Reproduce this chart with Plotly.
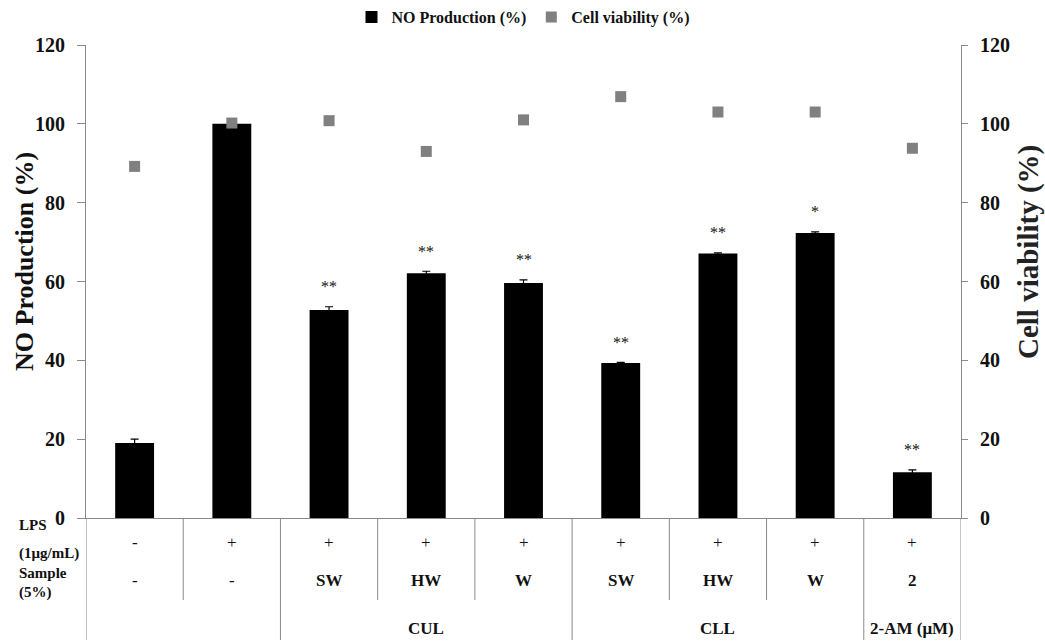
import plotly.graph_objects as go

# Treatment groups (one bar + one viability point each)
groups = ["Control", "LPS", "CUL-SW", "CUL-HW", "CUL-W", "CLL-SW", "CLL-HW", "CLL-W", "2-AM"]
no_production = [19.0, 100.0, 52.8, 62.1, 59.6, 39.3, 67.1, 72.3, 11.6]
no_error = [1.0, 0.0, 0.8, 0.5, 0.8, 0.2, 0.2, 0.3, 0.6]
cell_viability = [89.2, 100.2, 100.8, 93.0, 101.0, 106.9, 103.0, 103.0, 93.8]
significance = ["", "", "**", "**", "**", "**", "**", "*", "**"]

# Table rows under the axis
lps_row = ["-", "+", "+", "+", "+", "+", "+", "+", "+"]
sample_row = ["-", "-", "SW", "HW", "W", "SW", "HW", "W", "2"]
extract_labels = [("CUL", 3), ("CLL", 6), ("2-AM (μM)", 8)]

SERIF = "Liberation Serif"
AXIS_GREY = "#8a8a8a"

# plot area in pixels: x 86..961, y 45..518
PX_L, PX_R, PX_T, PX_B = 86, 961, 45, 518
PW, PH = PX_R - PX_L, PX_B - PX_T


def py_to_paper(py):
    return (PX_B - py) / PH


def px_to_paper(px):
    return (px - PX_L) / PW


fig = go.Figure()

fig.add_trace(go.Bar(
    x=groups, y=no_production, name="<b>NO Production (%)</b>",
    marker=dict(color="#000000", line=dict(width=0)),
    error_y=dict(type="data", array=no_error, visible=True,
                 color="#000000", thickness=1.2, width=4),
    yaxis="y",
))

fig.add_trace(go.Scatter(
    x=groups, y=cell_viability, name="<b>Cell viability (%)</b>",
    mode="markers",
    marker=dict(symbol="square", size=11, color="#808080"),
    yaxis="y2",
))

annotations = []

# significance marks above bars
for g, v, e, s in zip(groups, no_production, no_error, significance):
    if s:
        annotations.append(dict(
            x=g, y=v + e, xref="x", yref="y", text=s, showarrow=False,
            yanchor="middle", yshift=20,
            font=dict(family=SERIF, size=16, color="#111111"),
        ))

# table texts
for g, t in zip(groups, lps_row):
    annotations.append(dict(x=g, y=py_to_paper(542), xref="x", yref="paper", text=t,
                            showarrow=False, yanchor="middle",
                            font=dict(family=SERIF, size=17, color="#111111")))
for g, t in zip(groups, sample_row):
    txt = t if t == "-" else f"<b>{t}</b>"
    annotations.append(dict(x=g, y=py_to_paper(580), xref="x", yref="paper", text=txt,
                            showarrow=False, yanchor="middle",
                            font=dict(family=SERIF, size=17, color="#111111")))
for t, i in extract_labels:
    annotations.append(dict(x=i, y=py_to_paper(628), xref="x", yref="paper", text=f"<b>{t}</b>",
                            showarrow=False, yanchor="middle",
                            font=dict(family=SERIF, size=17, color="#111111")))

for t, py in [("LPS", 525), ("(1μg/mL)", 553), ("Sample", 573), ("(5%)", 592)]:
    annotations.append(dict(x=px_to_paper(17), y=py_to_paper(py), xref="paper", yref="paper",
                            xanchor="left", yanchor="middle", text=f"<b>{t}</b>",
                            showarrow=False,
                            font=dict(family=SERIF, size=15, color="#111111")))

# axis titles
annotations.append(dict(x=px_to_paper(24), y=py_to_paper(262), xref="paper", yref="paper",
                        text="<b>NO Production (%)</b>", textangle=-90, showarrow=False,
                        xanchor="center", yanchor="middle",
                        font=dict(family=SERIF, size=26, color="#111111")))
annotations.append(dict(x=px_to_paper(1029), y=py_to_paper(252), xref="paper", yref="paper",
                        text="<b>Cell viability (%)</b>", textangle=-90, showarrow=False,
                        xanchor="center", yanchor="middle",
                        font=dict(family=SERIF, size=29, color="#222222")))

# table grid lines below the axis
shapes = []
full_lines = [-0.5, 1.5, 4.5, 7.5, 8.5]
short_lines = [0.5, 2.5, 3.5, 5.5, 6.5]
for xv in full_lines:
    shapes.append(dict(type="line", xref="x", yref="paper", x0=xv, x1=xv,
                       y0=0, y1=py_to_paper(640), line=dict(color=AXIS_GREY, width=1)))
for xv in short_lines:
    shapes.append(dict(type="line", xref="x", yref="paper", x0=xv, x1=xv,
                       y0=0, y1=py_to_paper(600), line=dict(color=AXIS_GREY, width=1)))

tickfont = dict(family=SERIF, size=20, color="#111111", weight="bold")

fig.update_layout(
    width=1045, height=642,
    margin=dict(l=PX_L, r=1045 - PX_R, t=PX_T, b=642 - PX_B, autoexpand=False),
    paper_bgcolor="white", plot_bgcolor="white",
    bargap=0.6,
    showlegend=True,
    legend=dict(orientation="h", x=0.5, xanchor="center", y=py_to_paper(17),
                yanchor="middle", font=dict(family=SERIF, size=16, color="#111111"),
                itemwidth=30, tracegroupgap=0, bgcolor="rgba(0,0,0,0)"),
    xaxis=dict(showticklabels=False, ticks="", showgrid=False, zeroline=False,
               showline=True, linecolor=AXIS_GREY, linewidth=1,
               range=[-0.5, 8.5]),
    yaxis=dict(range=[0, 120], tickvals=[0, 20, 40, 60, 80, 100, 120],
               showgrid=False, zeroline=False, showline=True, linecolor=AXIS_GREY,
               linewidth=1, ticks="outside", ticklen=8, tickcolor=AXIS_GREY,
               tickfont=tickfont, ticklabelstandoff=8),
    yaxis2=dict(range=[0, 120], tickvals=[0, 20, 40, 60, 80, 100, 120],
                overlaying="y", side="right", showgrid=False, zeroline=False,
                showline=True, linecolor=AXIS_GREY, linewidth=1, ticks="outside",
                ticklen=6, tickcolor=AXIS_GREY, tickfont=tickfont,
                ticklabelstandoff=8),
    annotations=annotations,
    shapes=shapes,
)

fig.write_html("out.html")
